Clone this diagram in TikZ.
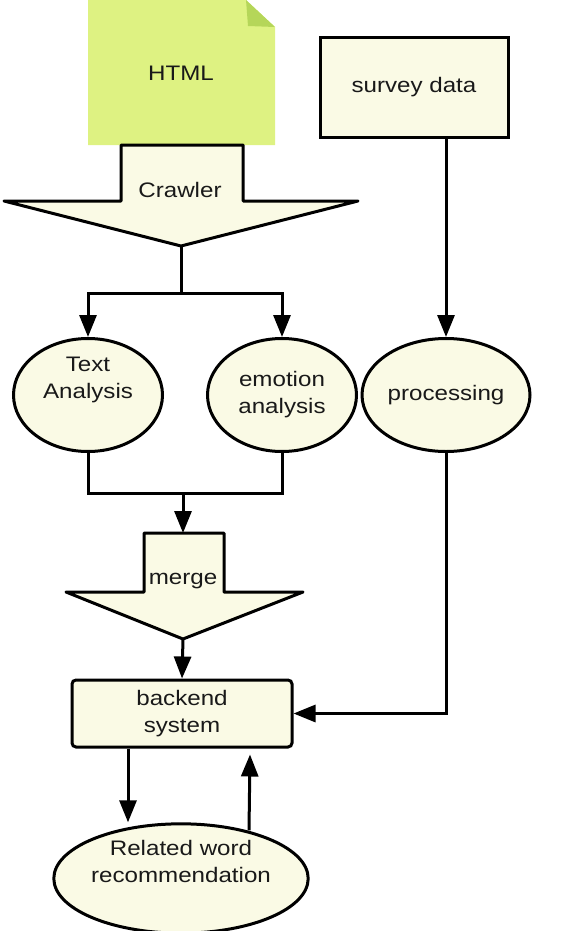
\documentclass[tikz,border=0pt]{standalone}
\usepackage{fontspec}
\setmainfont[FakeStretch=1.15]{Liberation Sans}
\usetikzlibrary{positioning,shapes.geometric,arrows.meta}
\definecolor{docclr}{rgb}{0.87, 0.95, 0.51}
\definecolor{foldclr}{rgb}{0.71, 0.84, 0.35}
\definecolor{boxclr}{rgb}{0.98, 0.98, 0.90}
\definecolor{txtclr}{rgb}{0.1, 0.1, 0.1}
\tikzset{ %
  ,>={Triangle[length=22pt,width=17pt]}
  ,every node/.style={font=\fontsize{21}{27}\selectfont, text=txtclr, align=center}
  ,line/.style={line width=3pt}
  ,blockarrow/.style={draw, line width=3pt, fill=boxclr, line join=round}
  ,oval/.style={draw, ellipse, line width=3pt, fill=boxclr, inner sep=0, minimum width=149pt, minimum height=113pt}
  ,sbox/.style={draw, rectangle, line width=3pt, fill=boxclr, minimum width=188pt, minimum height=99pt}
}
\begin{document}
\begin{tikzpicture}[x=1pt,y=-1pt]
  \useasboundingbox (0,0) rectangle (572,931);
  % page with the folded corner
  \fill[docclr] (88,0) -- (246,0) -- (275,27) -- (275,145) -- (88,145) -- cycle;
  \fill[foldclr] (246,0) -- (275,27) -- (248,26) -- cycle;
  \node (html) at (181,73) {HTML};
  % crawler arrow
  \draw[blockarrow] (121,145) -- (243,145) -- (243,201) -- (358,201) -- (181,246) -- (4,201) -- (121,201) -- cycle;
  \node (crawler) at (180,190) {Crawler};
  \coordinate (crawltip) at (181,246);
  \coordinate (split) at (181,293);

  \node[sbox] (survey) at (414,87.5) {survey data};
  \node[oval] (textana) at (88,395) {Text\\Analysis\\\strut};
  \node[oval] (emoana) at (282,395) {emotion\\analysis};
  \node[oval, minimum width=168pt] (proc) at (446,395) {processing};

  % merge arrow
  \coordinate (join) at (183,493);
  \draw[blockarrow] (144,533) -- (224,533) -- (224,592) -- (303,592) -- (183,639) -- (66,592) -- (144,592) -- cycle;
  \node (merge) at (183,581) {merge};
  \coordinate (mergetop) at (183,533);
  \coordinate (mergetip) at (183,639);

  \node[sbox, rounded corners=4pt, minimum width=220pt, minimum height=67pt] (backend) at (182,713.5) {backend\\system};
  \node[oval, minimum width=244pt, minimum height=97pt] (related) at (181,878.5) {Related word\\recommendation\\\strut};

  \draw[line] (crawltip) -- (split);
  \draw[line,->] (split) -| (textana.north);
  \draw[line,->] (split) -| (emoana.north);
  \draw[line,->] (survey.south -| proc.north) -- (proc.north);
  \draw[line] (textana.south) |- (join);
  \draw[line] (emoana.south) |- (join);
  \draw[line,->] (join) -- (mergetop);
  \draw[line,->] (mergetip) -- (backend.north);
  \draw[line,->] (proc.south) |- (backend.east);
  \draw[line,->] ([xshift=-54pt]backend.south) -- ([xshift=-54pt]backend.south |- related.north);
  \draw[line,->] ([xshift=68pt,yshift=-8pt]related.north) -- ([xshift=68pt,yshift=-6pt]backend.south);
\end{tikzpicture}
\end{document}
